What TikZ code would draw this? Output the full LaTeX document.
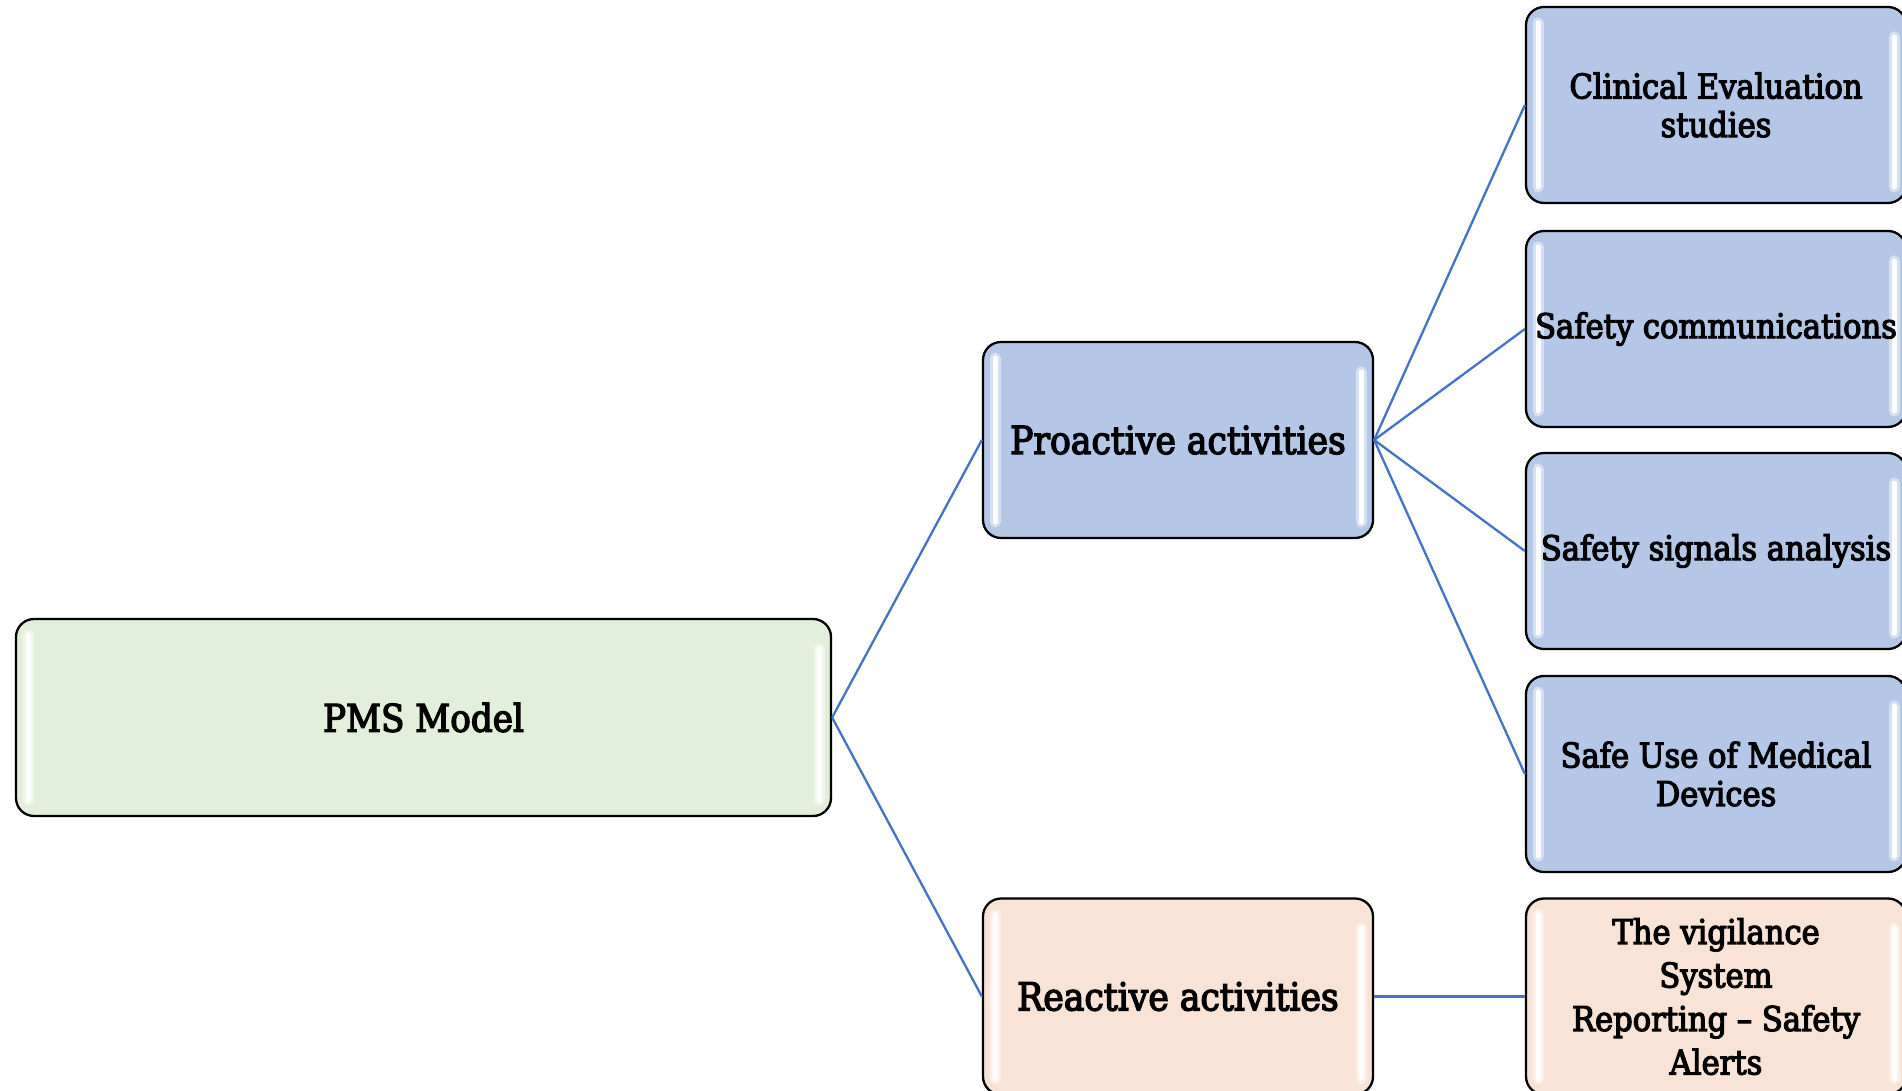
\documentclass[tikz,border=0pt]{standalone}
\usepackage{fontspec}
\setmainfont{DejaVu Serif Condensed}[FakeBold=3.5]
\begin{document}
\definecolor{linkblue}{RGB}{68,114,196}
\definecolor{fillblue}{RGB}{180,199,231}
\definecolor{fillgreen}{RGB}{226,239,218}
\definecolor{fillpeach}{RGB}{249,227,214}
\tikzset{
  gloss/.style={white, line width=5pt, line cap=round},
  glow/.style={white, opacity=0.45, line width=11pt, line cap=round},
  box/.style={draw=black, line width=2.3pt, rounded corners=18pt,
    minimum width=390pt, minimum height=196pt, align=center, inner sep=4pt,
    % soft white strips along the inner left and right edges, under the label
    path picture={
      \foreach \sty in {glow,gloss} {
        \draw[\sty] ([xshift=12pt,yshift=-16pt]path picture bounding box.north west)
                 -- ([xshift=12pt,yshift=16pt]path picture bounding box.south west);
        \draw[\sty] ([xshift=-12pt,yshift=-30pt]path picture bounding box.north east)
                 -- ([xshift=-12pt,yshift=16pt]path picture bounding box.south east);
      }
    }},
  leaf/.style={box, minimum width=380pt, font=\fontsize{34}{38.5}\selectfont},
  mid/.style={box, font=\fontsize{38.5}{44}\selectfont},
  link/.style={draw=linkblue, line width=2.3pt},
}
\begin{tikzpicture}[x=1pt,y=-1pt]
  \path[use as bounding box, clip] (0,0) rectangle (1902,1091);

  \node[box, fill=fillgreen, minimum width=815pt, minimum height=197pt,
        font=\fontsize{38}{44}\selectfont] (pms) at (423.5,717.5) {PMS Model};

  \node[mid, fill=fillblue]  (pro) at (1178,440) {Proactive activities};
  \node[mid, fill=fillpeach] (rea) at (1178,996.5) {Reactive activities};

  \node[leaf, fill=fillblue] (clin) at (1716,105) {Clinical Evaluation\\studies};
  \node[leaf, fill=fillblue] (comm) at (1716,329) {Safety communications};
  \node[leaf, fill=fillblue] (sig)  at (1716,551) {Safety signals analysis};
  \node[leaf, fill=fillblue] (safe) at (1716,774) {Safe Use of Medical\\Devices};
  \node[leaf, fill=fillpeach, font=\fontsize{34}{43.5}\selectfont] (vig) at (1716,996.5)
        {The vigilance\\System\\Reporting – Safety\\Alerts};

  \draw[link] (pms.east) -- (pro.west);
  \draw[link] (pms.east) -- (rea.west);
  \draw[link] (pro.east) -- (clin.west);
  \draw[link] (pro.east) -- (comm.west);
  \draw[link] (pro.east) -- (sig.west);
  \draw[link] (pro.east) -- (safe.west);
  \draw[link] (rea.east) -- (vig.west);
\end{tikzpicture}
\end{document}
